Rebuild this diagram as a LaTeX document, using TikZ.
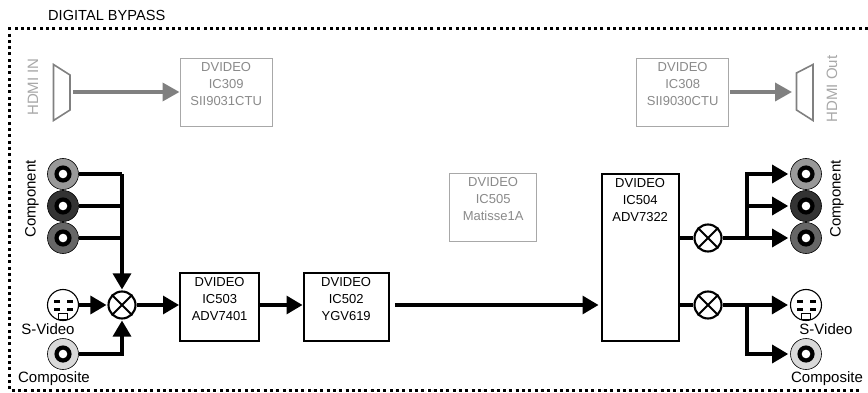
\documentclass[tikz,border=0pt]{standalone}
\usepackage{fontspec}
\setmainfont{Liberation Sans}
\usetikzlibrary{arrows.meta,calc}
\definecolor{gtext}{HTML}{8A8A8A}
\definecolor{gline}{HTML}{A8A8A8}
\definecolor{garrow}{HTML}{808080}
\tikzset{
 x=1pt,y=-1pt,
 blk/.style={draw=black,line width=2.3pt,fill=white,align=center,anchor=north west,font=\fontsize{13}{17}\selectfont,inner sep=0pt},
 gblk/.style={draw=gline,line width=1.3pt,fill=white,align=center,anchor=north west,font=\fontsize{13}{17}\selectfont,text=gtext,inner sep=0pt},
 wire/.style={line width=3.2pt,black},
 arr/.style={line width=3.2pt,black,-{Triangle[length=16pt,width=18pt]}},
 garr/.style={line width=3.6pt,garrow,-{Triangle[length=17pt,width=18pt]}},
 lab/.style={font=\fontsize{15}{17}\selectfont,inner sep=0pt},
 glab/.style={font=\fontsize{15}{17}\selectfont,inner sep=0pt,text=gline},
 mixer/.style={draw=black,circle,line width=2.1pt,minimum size=27pt,inner sep=0pt,fill=white},
 conn/.style={circle,draw=black,line width=0.6pt,minimum size=31pt,inner sep=0pt},
 sv/.style={circle,draw=black,line width=1.1pt,minimum size=31pt,inner sep=0pt,fill=white},
 dots/.style={black,line width=3pt,dash pattern=on 3pt off 3.3pt},
 trap/.style={draw=garrow,line width=1.6pt,fill=white},
}
\newcommand{\rca}[3]{%
 \node[conn,fill=#3] (#1) at (#2) {};
 \fill[black] (#2) circle (8.6pt);
 \fill[white] (#2) circle (4.3pt);
}
\newcommand{\svid}[2]{%
 \node[sv] (#1) at (#2) {};
 \fill[black] ($(#2)+(-9,-5)$) rectangle ++(5.5,3);
 \fill[black] ($(#2)+(4,-5)$) rectangle ++(5.5,3);
 \fill[black] ($(#2)+(-9,2.5)$) rectangle ++(5.5,3);
 \fill[black] ($(#2)+(4,2.5)$) rectangle ++(5.5,3);
 \draw[black,line width=1.3pt,fill=white] ($(#2)+(-4.5,8.5)$) rectangle ++(9,6);
}
\newcommand{\xmix}[2]{%
 \node[mixer] (#1) at (#2) {};
 \draw[line width=2.1pt] (#1.north west) -- (#1.south east) (#1.north east) -- (#1.south west);
}
\begin{document}
\begin{tikzpicture}
\useasboundingbox (0,0) rectangle (868,393);
\fill[white] (0,0) rectangle (868,393);
% border: open on the right
\node[lab,anchor=west,font=\fontsize{14.6}{17}\selectfont] (title) at (48,15) {DIGITAL BYPASS};
\coordinate (b1) at (868,29); \coordinate (b2) at (9.5,29); \coordinate (b3) at (9.5,390.5); \coordinate (b4) at (862,390.5);
\draw[dots] (b1) -- (b2) -- (b3) -- (b4);
% HDMI in
\draw[trap] (53.5,64.5) -- (70,75) -- (70,110) -- (53.5,120.5) -- cycle;
\coordinate (hin) at (73,92);
\node[glab,rotate=90] (hdmiin) at (33,87) {HDMI IN};
\node[gblk,minimum width=92pt,minimum height=68pt] (ic309) at (179.5,58) {DVIDEO\\IC309\\SII9031CTU\\\mbox{}};
\draw[garr] (hin) -- (ic309.west |- hin);
% HDMI out
\node[gblk,minimum width=92pt,minimum height=68pt] (ic308) at (636,58) {DVIDEO\\IC308\\SII9030CTU\\\mbox{}};
\draw[trap] (813,64.5) -- (796.5,73) -- (796.5,110) -- (813,120.5) -- cycle;
\coordinate (hout) at (792,92);
\draw[garr] ($(ic308.east |- hout)+(1,0)$) -- (hout);
\node[glab,rotate=90] (hdmiout) at (832,89) {HDMI Out};
% IC505
\node[gblk,minimum width=87pt,minimum height=68pt] (ic505) at (449,173) {DVIDEO\\IC505\\Matisse1A\\\mbox{}};
% left connectors
\rca{lc1}{63,174}{gray!80}
\rca{lc2}{63,206}{black!80}
\rca{lc3}{63,238}{black!60}
\node[lab,rotate=90] (lcomp) at (32,199) {Component};
\svid{ls}{63,305}
\node[lab] (lsl) at (48,329) {S-Video};
\rca{lcv}{63,354}{gray!30}
\node[lab] (lcl) at (54,379) {Composite};
\xmix{mxl}{122,305}
\coordinate (jl) at (122,174);
\coordinate (jl2) at (122,206);
\coordinate (jl3) at (122,238);
% blocks
\node[blk,minimum width=79pt,minimum height=68pt] (ic503) at (179,272) {DVIDEO\\IC503\\ADV7401\\\mbox{}};
\node[blk,minimum width=85pt,minimum height=68pt] (ic502) at (302.5,272) {DVIDEO\\IC502\\YGV619\\\mbox{}};
\node[blk,minimum width=77pt,minimum height=167pt] (ic504) at (600.5,173) {DVIDEO\\IC504\\ADV7322\\[98pt]\mbox{}};
\coordinate (out502) at ($(ic502.east |- mxl)+(5,0)$);
% left wires
\draw[wire] (lc1.east) -- (jl);
\draw[wire] (lc2.east) -- (jl2);
\draw[wire] (lc3.east) -- (jl3);
\draw[arr,shorten >=1pt] (jl) -- (mxl.north);
\draw[arr,shorten >=1pt] (ls.east) -- (mxl.west);
\draw[arr,shorten >=1pt] (lcv.east) -| (mxl.south);
\draw[arr] (mxl.east) -- (ic503.west |- mxl);
\draw[arr] (ic503.east |- mxl) -- (ic502.west |- mxl);
\draw[arr,shorten >=2pt] (out502) -- (ic504.west |- mxl);
% right
\xmix{mxa}{708,238}
\xmix{mxb}{708,305}
\rca{rc1}{806,174}{gray!80}
\rca{rc2}{806,206}{black!80}
\rca{rc3}{806,238}{black!60}
\node[lab,rotate=90] (rcomp) at (837,199) {Component};
\svid{rs}{806,305}
\node[lab] (rsl) at (826,329) {S-Video};
\rca{rcv}{806,354}{gray!30}
\node[lab] (rcl) at (827,379) {Composite};
\draw[wire] (ic504.east |- mxa) -- (mxa.west);
\draw[wire] (ic504.east |- mxb) -- (mxb.west);
\coordinate (ja) at (747,238);
\coordinate (jb) at (747,305);
\draw[arr,shorten >=2pt] (mxa.east) -- (rc3.west);
\draw[arr,shorten >=2pt] (ja) |- (rc1.west);
\draw[arr,shorten >=2pt] (ja |- rc2) -- (rc2.west);
\draw[arr,shorten >=2pt] (mxb.east) -- (rs.west);
\draw[arr,shorten >=2pt] (jb) |- (rcv.west);
\end{tikzpicture}
\end{document}
